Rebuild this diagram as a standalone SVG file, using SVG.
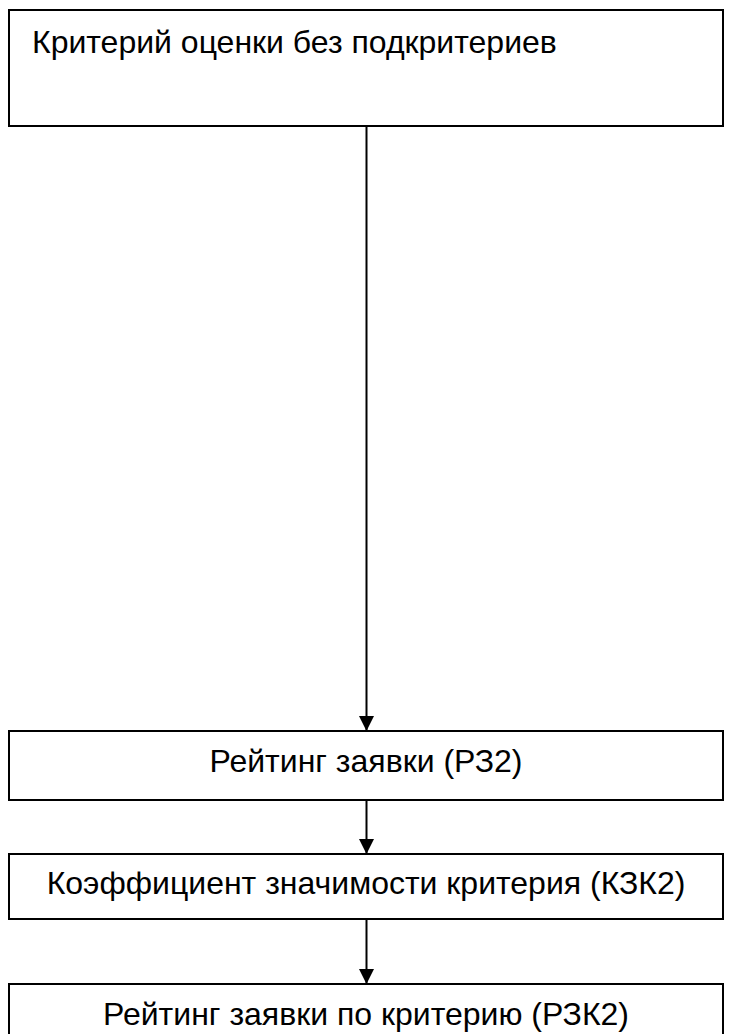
<svg xmlns="http://www.w3.org/2000/svg" width="731" height="1034" viewBox="0 0 731 1034">
<style>
.box{fill:#fff;stroke:#000;stroke-width:2}
.lbl{font-family:"Liberation Sans",Arial,sans-serif;font-size:32px;fill:#000}
.c{text-anchor:middle}
.edge{stroke:#000;stroke-width:2;fill:none}
</style>
<defs>
<marker id="arr" markerUnits="userSpaceOnUse" markerWidth="16" markerHeight="16" viewBox="0 0 16 16" refX="15" refY="8" orient="auto">
<path d="M0,0.5 L15,8 L0,15.5 Z" fill="#000"/>
</marker>
</defs>
<rect width="731" height="1034" fill="#fff"/>
<g id="connectors">
<line class="edge" x1="366.5" y1="126" x2="366.5" y2="731" marker-end="url(#arr)"/>
<line class="edge" x1="366.5" y1="800" x2="366.5" y2="854" marker-end="url(#arr)"/>
<line class="edge" x1="366.5" y1="919" x2="366.5" y2="984" marker-end="url(#arr)"/>
</g>
<g id="node1">
<rect class="box" x="9" y="10" width="714" height="116"/>
<text class="lbl" x="32" y="53">Критерий оценки без подкритериев</text>
</g>
<g id="node2">
<rect class="box" x="9" y="731" width="714" height="69"/>
<text class="lbl c" x="366" y="772">Рейтинг заявки (РЗ2)</text>
</g>
<g id="node3">
<rect class="box" x="9" y="854" width="714" height="65"/>
<text class="lbl c" x="366" y="894">Коэффициент значимости критерия (КЗК2)</text>
</g>
<g id="node4">
<rect class="box" x="9" y="984" width="714" height="70"/>
<text class="lbl c" x="366" y="1025">Рейтинг заявки по критерию (РЗК2)</text>
</g>
</svg>
